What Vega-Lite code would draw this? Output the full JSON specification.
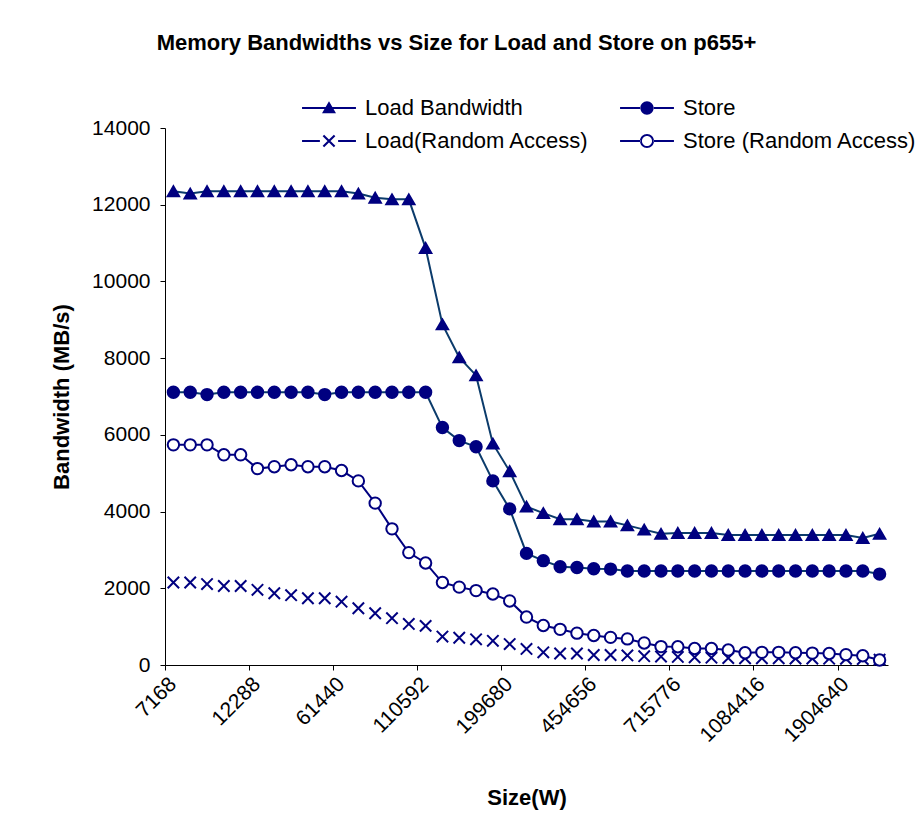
{
 "$schema": "https://vega.github.io/schema/vega-lite/v6.json",
 "width": 723,
 "height": 537,
 "autosize": {"type": "none"},
 "padding": {"left": 165, "top": 128, "right": 34, "bottom": 167},
 "background": "white",
 "config": {
  "view": {"stroke": null},
  "font": "Liberation Sans",
  "axis": {"grid": false, "domainColor": "#000", "tickColor": "#000", "labelColor": "#000", "titleColor": "#000", "labelFont": "Liberation Sans", "titleFont": "Liberation Sans"},
  "legend": {"labelFont": "Liberation Sans"}
 },
 "title": {"text": "Memory Bandwidths vs Size for Load and Store on p655+", "font": "Liberation Sans", "fontSize": 22, "fontWeight": "bold", "color": "#000", "anchor": "middle", "frame": "group", "dx": -70, "offset": 42},
 "data": {"values": [
  {"i":0,"series":"Load Bandwidth","bw":12350},{"i":1,"series":"Load Bandwidth","bw":12290},{"i":2,"series":"Load Bandwidth","bw":12350},{"i":3,"series":"Load Bandwidth","bw":12350},{"i":4,"series":"Load Bandwidth","bw":12350},{"i":5,"series":"Load Bandwidth","bw":12350},{"i":6,"series":"Load Bandwidth","bw":12350},{"i":7,"series":"Load Bandwidth","bw":12350},{"i":8,"series":"Load Bandwidth","bw":12350},{"i":9,"series":"Load Bandwidth","bw":12350},{"i":10,"series":"Load Bandwidth","bw":12350},{"i":11,"series":"Load Bandwidth","bw":12290},{"i":12,"series":"Load Bandwidth","bw":12180},{"i":13,"series":"Load Bandwidth","bw":12140},{"i":14,"series":"Load Bandwidth","bw":12140},{"i":15,"series":"Load Bandwidth","bw":10870},{"i":16,"series":"Load Bandwidth","bw":8880},{"i":17,"series":"Load Bandwidth","bw":8020},{"i":18,"series":"Load Bandwidth","bw":7550},{"i":19,"series":"Load Bandwidth","bw":5770},{"i":20,"series":"Load Bandwidth","bw":5050},{"i":21,"series":"Load Bandwidth","bw":4130},{"i":22,"series":"Load Bandwidth","bw":3960},{"i":23,"series":"Load Bandwidth","bw":3800},{"i":24,"series":"Load Bandwidth","bw":3800},{"i":25,"series":"Load Bandwidth","bw":3740},{"i":26,"series":"Load Bandwidth","bw":3740},{"i":27,"series":"Load Bandwidth","bw":3640},{"i":28,"series":"Load Bandwidth","bw":3530},{"i":29,"series":"Load Bandwidth","bw":3420},{"i":30,"series":"Load Bandwidth","bw":3440},{"i":31,"series":"Load Bandwidth","bw":3440},{"i":32,"series":"Load Bandwidth","bw":3440},{"i":33,"series":"Load Bandwidth","bw":3390},{"i":34,"series":"Load Bandwidth","bw":3390},{"i":35,"series":"Load Bandwidth","bw":3390},{"i":36,"series":"Load Bandwidth","bw":3390},{"i":37,"series":"Load Bandwidth","bw":3390},{"i":38,"series":"Load Bandwidth","bw":3390},{"i":39,"series":"Load Bandwidth","bw":3390},{"i":40,"series":"Load Bandwidth","bw":3390},{"i":41,"series":"Load Bandwidth","bw":3310},{"i":42,"series":"Load Bandwidth","bw":3420},
  {"i":0,"series":"Store","bw":7110},{"i":1,"series":"Store","bw":7110},{"i":2,"series":"Store","bw":7050},{"i":3,"series":"Store","bw":7110},{"i":4,"series":"Store","bw":7110},{"i":5,"series":"Store","bw":7110},{"i":6,"series":"Store","bw":7110},{"i":7,"series":"Store","bw":7110},{"i":8,"series":"Store","bw":7110},{"i":9,"series":"Store","bw":7050},{"i":10,"series":"Store","bw":7110},{"i":11,"series":"Store","bw":7110},{"i":12,"series":"Store","bw":7110},{"i":13,"series":"Store","bw":7110},{"i":14,"series":"Store","bw":7110},{"i":15,"series":"Store","bw":7110},{"i":16,"series":"Store","bw":6190},{"i":17,"series":"Store","bw":5850},{"i":18,"series":"Store","bw":5690},{"i":19,"series":"Store","bw":4800},{"i":20,"series":"Store","bw":4070},{"i":21,"series":"Store","bw":2910},{"i":22,"series":"Store","bw":2720},{"i":23,"series":"Store","bw":2560},{"i":24,"series":"Store","bw":2540},{"i":25,"series":"Store","bw":2510},{"i":26,"series":"Store","bw":2500},{"i":27,"series":"Store","bw":2450},{"i":28,"series":"Store","bw":2450},{"i":29,"series":"Store","bw":2450},{"i":30,"series":"Store","bw":2450},{"i":31,"series":"Store","bw":2450},{"i":32,"series":"Store","bw":2450},{"i":33,"series":"Store","bw":2450},{"i":34,"series":"Store","bw":2450},{"i":35,"series":"Store","bw":2450},{"i":36,"series":"Store","bw":2450},{"i":37,"series":"Store","bw":2450},{"i":38,"series":"Store","bw":2450},{"i":39,"series":"Store","bw":2450},{"i":40,"series":"Store","bw":2450},{"i":41,"series":"Store","bw":2450},{"i":42,"series":"Store","bw":2370},
  {"i":0,"series":"Load(Random Access)","bw":2150},{"i":1,"series":"Load(Random Access)","bw":2150},{"i":2,"series":"Load(Random Access)","bw":2110},{"i":3,"series":"Load(Random Access)","bw":2060},{"i":4,"series":"Load(Random Access)","bw":2060},{"i":5,"series":"Load(Random Access)","bw":1960},{"i":6,"series":"Load(Random Access)","bw":1870},{"i":7,"series":"Load(Random Access)","bw":1820},{"i":8,"series":"Load(Random Access)","bw":1740},{"i":9,"series":"Load(Random Access)","bw":1740},{"i":10,"series":"Load(Random Access)","bw":1650},{"i":11,"series":"Load(Random Access)","bw":1480},{"i":12,"series":"Load(Random Access)","bw":1350},{"i":13,"series":"Load(Random Access)","bw":1220},{"i":14,"series":"Load(Random Access)","bw":1070},{"i":15,"series":"Load(Random Access)","bw":1020},{"i":16,"series":"Load(Random Access)","bw":740},{"i":17,"series":"Load(Random Access)","bw":710},{"i":18,"series":"Load(Random Access)","bw":670},{"i":19,"series":"Load(Random Access)","bw":630},{"i":20,"series":"Load(Random Access)","bw":545},{"i":21,"series":"Load(Random Access)","bw":420},{"i":22,"series":"Load(Random Access)","bw":330},{"i":23,"series":"Load(Random Access)","bw":300},{"i":24,"series":"Load(Random Access)","bw":300},{"i":25,"series":"Load(Random Access)","bw":260},{"i":26,"series":"Load(Random Access)","bw":260},{"i":27,"series":"Load(Random Access)","bw":250},{"i":28,"series":"Load(Random Access)","bw":230},{"i":29,"series":"Load(Random Access)","bw":220},{"i":30,"series":"Load(Random Access)","bw":210},{"i":31,"series":"Load(Random Access)","bw":200},{"i":32,"series":"Load(Random Access)","bw":190},{"i":33,"series":"Load(Random Access)","bw":180},{"i":34,"series":"Load(Random Access)","bw":175},{"i":35,"series":"Load(Random Access)","bw":175},{"i":36,"series":"Load(Random Access)","bw":175},{"i":37,"series":"Load(Random Access)","bw":170},{"i":38,"series":"Load(Random Access)","bw":170},{"i":39,"series":"Load(Random Access)","bw":165},{"i":40,"series":"Load(Random Access)","bw":160},{"i":41,"series":"Load(Random Access)","bw":155},{"i":42,"series":"Load(Random Access)","bw":140},
  {"i":0,"series":"Store (Random Access)","bw":5740},{"i":1,"series":"Store (Random Access)","bw":5740},{"i":2,"series":"Store (Random Access)","bw":5740},{"i":3,"series":"Store (Random Access)","bw":5480},{"i":4,"series":"Store (Random Access)","bw":5480},{"i":5,"series":"Store (Random Access)","bw":5120},{"i":6,"series":"Store (Random Access)","bw":5170},{"i":7,"series":"Store (Random Access)","bw":5220},{"i":8,"series":"Store (Random Access)","bw":5170},{"i":9,"series":"Store (Random Access)","bw":5170},{"i":10,"series":"Store (Random Access)","bw":5070},{"i":11,"series":"Store (Random Access)","bw":4800},{"i":12,"series":"Store (Random Access)","bw":4220},{"i":13,"series":"Store (Random Access)","bw":3550},{"i":14,"series":"Store (Random Access)","bw":2930},{"i":15,"series":"Store (Random Access)","bw":2660},{"i":16,"series":"Store (Random Access)","bw":2150},{"i":17,"series":"Store (Random Access)","bw":2030},{"i":18,"series":"Store (Random Access)","bw":1940},{"i":19,"series":"Store (Random Access)","bw":1850},{"i":20,"series":"Store (Random Access)","bw":1670},{"i":21,"series":"Store (Random Access)","bw":1250},{"i":22,"series":"Store (Random Access)","bw":1030},{"i":23,"series":"Store (Random Access)","bw":930},{"i":24,"series":"Store (Random Access)","bw":830},{"i":25,"series":"Store (Random Access)","bw":770},{"i":26,"series":"Store (Random Access)","bw":720},{"i":27,"series":"Store (Random Access)","bw":680},{"i":28,"series":"Store (Random Access)","bw":575},{"i":29,"series":"Store (Random Access)","bw":480},{"i":30,"series":"Store (Random Access)","bw":475},{"i":31,"series":"Store (Random Access)","bw":430},{"i":32,"series":"Store (Random Access)","bw":430},{"i":33,"series":"Store (Random Access)","bw":390},{"i":34,"series":"Store (Random Access)","bw":320},{"i":35,"series":"Store (Random Access)","bw":330},{"i":36,"series":"Store (Random Access)","bw":330},{"i":37,"series":"Store (Random Access)","bw":320},{"i":38,"series":"Store (Random Access)","bw":310},{"i":39,"series":"Store (Random Access)","bw":300},{"i":40,"series":"Store (Random Access)","bw":270},{"i":41,"series":"Store (Random Access)","bw":240},{"i":42,"series":"Store (Random Access)","bw":130}
 ]},
 "encoding": {
  "x": {"field": "i", "type": "quantitative", "scale": {"domain": [-0.5, 42.5], "nice": false, "zero": false},
   "axis": {"values": [-0.5, 4.5, 9.5, 14.5, 19.5, 24.5, 29.5, 34.5, 39.5],
    "labelExpr": "['7168','12288','61440','110592','199680','454656','715776','1084416','1904640'][round((datum.value + 0.5) / 5)]",
    "labelAngle": -45, "labelFontSize": 21, "tickSize": 5, "labelPadding": 3, "title": "Size(W)", "titleFontSize": 22, "titleFontWeight": "bold", "titlePadding": 42}},
  "y": {"field": "bw", "type": "quantitative", "scale": {"domain": [0, 14000], "nice": false},
   "axis": {"values": [0, 2000, 4000, 6000, 8000, 10000, 12000, 14000], "format": "d", "labelFontSize": 21, "tickSize": 5, "labelPadding": 10, "title": "Bandwidth (MB/s)", "titleFontSize": 22, "titleFontWeight": "bold", "titlePadding": 18}}
 },
 "resolve": {"scale": {"shape": "independent"}},
 "layer": [
  {
   "transform": [{"filter": "datum.series !== 'Load(Random Access)'"}],
   "mark": {"type": "line", "strokeWidth": 2},
   "encoding": {
    "stroke": {"field": "series", "type": "nominal",
     "scale": {"domain": ["Load Bandwidth", "Load(Random Access)", "Store", "Store (Random Access)"], "range": ["#0B3B6B", "#000080", "#0B3B6B", "#000080"]},
     "legend": null}
   }
  },
  {
   "mark": {"type": "point", "filled": true, "stroke": "#000080", "strokeWidth": 2, "size": 130, "opacity": 1},
   "encoding": {
    "fill": {"field": "series", "type": "nominal",
     "scale": {"domain": ["Load Bandwidth", "Load(Random Access)", "Store", "Store (Random Access)"], "range": ["#000080", "#000080", "#000080", "#FFFFFF"]},
     "legend": null},
    "shape": {"field": "series", "type": "nominal",
     "scale": {"domain": ["Load Bandwidth", "Load(Random Access)", "Store", "Store (Random Access)"], "range": ["triangle-up", "M-1,-1L1,1M-1,1L1,-1", "circle", "circle"]},
     "legend": null}
   }
  },
  {
   "transform": [{"filter": "false"}],
   "mark": {"type": "point", "filled": true, "color": "#000080", "opacity": 1},
   "encoding": {
    "shape": {"field": "series", "type": "nominal",
     "scale": {"domain": ["Load Bandwidth", "Load(Random Access)", "Store", "Store (Random Access)"],
      "range": [
       "M-3.85,-0.14L3.85,-0.14L3.85,0.14L-3.85,0.14ZM0,-0.95L1,0.75L-1,0.75Z",
       "M-3.85,-0.14L-1.3,-0.14L-1.3,0.14L-3.85,0.14ZM1.3,-0.14L3.85,-0.14L3.85,0.14L1.3,0.14ZM-0.694,-0.906L0.906,0.694L0.694,0.906L-0.906,-0.694ZM-0.906,0.694L0.694,-0.906L0.906,-0.694L-0.694,0.906Z",
       "M-3.85,-0.14L-0.9,-0.14L-0.9,0.14L-3.85,0.14ZM0.9,-0.14L3.85,-0.14L3.85,0.14L0.9,0.14ZM-0.95,0A0.95,0.95 0 1,0 0.95,0A0.95,0.95 0 1,0 -0.95,0Z",
       "M-3.85,-0.14L-0.95,-0.14L-0.95,0.14L-3.85,0.14ZM0.95,-0.14L3.85,-0.14L3.85,0.14L0.95,0.14ZM-1,0A1,1 0 1,0 1,0A1,1 0 1,0 -1,0ZM-0.72,0A0.72,0.72 0 1,1 0.72,0A0.72,0.72 0 1,1 -0.72,0Z"
      ]},
     "legend": {"orient": "none", "legendX": 153, "legendY": -31, "direction": "vertical", "columns": 2, "columnPadding": 28, "rowPadding": 11, "title": null, "padding": 0, "symbolSize": 196, "symbolFillColor": "#000080", "symbolOpacity": 1, "labelOffset": 25, "labelFontSize": 22, "labelColor": "#000", "labelLimit": 400}}
   }
  }
 ]
}
